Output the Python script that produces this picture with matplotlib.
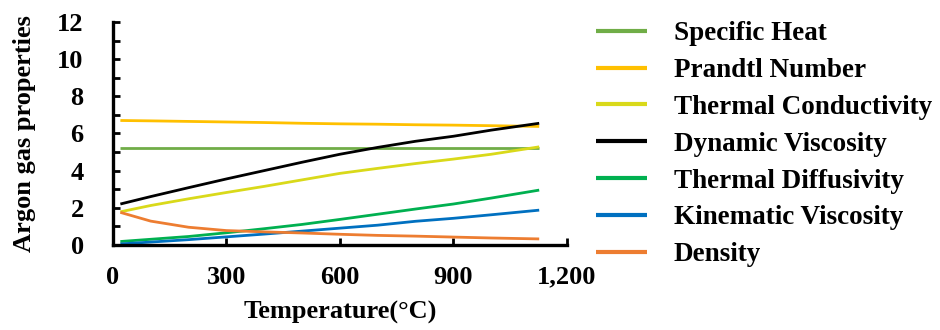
import numpy as np
import matplotlib
matplotlib.use("Agg")
import matplotlib.pyplot as plt
from matplotlib.ticker import MultipleLocator, FuncFormatter

plt.rcParams['font.family'] = ['Liberation Serif', 'DejaVu Serif']
plt.rcParams['font.weight'] = 'bold'

temperature = [20, 100, 200, 300, 400, 500, 600, 700, 800, 900, 1000, 1127]

specific_heat = [5.2, 5.2, 5.2, 5.2, 5.2, 5.2, 5.2, 5.2, 5.2, 5.2, 5.2, 5.2]
prandtl = [6.70, 6.68, 6.65, 6.62, 6.59, 6.55, 6.52, 6.50, 6.47, 6.45, 6.42, 6.38]
conductivity = [1.78, 2.12, 2.48, 2.82, 3.15, 3.50, 3.85, 4.12, 4.38, 4.62, 4.88, 5.28]
dyn_viscosity = [2.20, 2.60, 3.08, 3.55, 4.00, 4.45, 4.88, 5.25, 5.58, 5.85, 6.18, 6.55]
diffusivity = [0.18, 0.30, 0.45, 0.65, 0.87, 1.10, 1.37, 1.65, 1.93, 2.20, 2.52, 2.95]
kin_viscosity = [0.05, 0.15, 0.28, 0.43, 0.58, 0.74, 0.90, 1.06, 1.27, 1.43, 1.62, 1.87]
density = [1.75, 1.28, 0.95, 0.77, 0.70, 0.64, 0.57, 0.51, 0.47, 0.42, 0.37, 0.32]

series = [
    ("Specific Heat", specific_heat, "#70AD47"),
    ("Prandtl Number", prandtl, "#FFC000"),
    ("Thermal Conductivity", conductivity, "#D9D91A"),
    ("Dynamic Viscosity", dyn_viscosity, "#000000"),
    ("Thermal Diffusivity", diffusivity, "#00B050"),
    ("Kinematic Viscosity", kin_viscosity, "#0070C0"),
    ("Density", density, "#ED7D31"),
]

fig = plt.figure(figsize=(9.4, 3.3), dpi=100)
ax = fig.add_axes([0.120, 0.258, 0.483, 0.675])

for name, vals, col in series:
    ax.plot(temperature, vals, color=col, lw=2.0, label=name, solid_capstyle='butt')

ax.set_xlim(0, 1200)
ax.set_ylim(0, 12)
ax.xaxis.set_major_locator(MultipleLocator(300))
ax.yaxis.set_major_locator(MultipleLocator(2))
ax.yaxis.set_minor_locator(MultipleLocator(1))
ax.xaxis.set_major_formatter(FuncFormatter(lambda v, p: f"{int(v):,}"))

for s in ['top', 'right']:
    ax.spines[s].set_visible(False)
for s in ['left', 'bottom']:
    ax.spines[s].set_linewidth(2.4)
    ax.spines[s].set_color('black')

ax.tick_params(axis='both', which='both', direction='in', width=2, length=5,
               labelsize=19)
ax.tick_params(axis='y', pad=21)
ax.tick_params(axis='x', pad=15)
for lab in ax.get_xticklabels() + ax.get_yticklabels():
    lab.set_fontweight('bold')

ax.set_xlabel("Temperature(°C)", fontsize=19, fontweight='bold', labelpad=9)
ax.set_ylabel("Argon gas properties", fontsize=19, fontweight='bold', labelpad=15)

# legend to the right of the axes
leg = fig.legend(loc='upper left', bbox_to_anchor=(0.623, 0.968), frameon=False,
                 handlelength=1.85, handletextpad=1.0, labelspacing=0.435,
                 borderaxespad=0, prop={'weight': 'bold', 'size': 19.5})
for line in leg.get_lines():
    line.set_linewidth(3.0)

fig.savefig("out.png", dpi=100)
